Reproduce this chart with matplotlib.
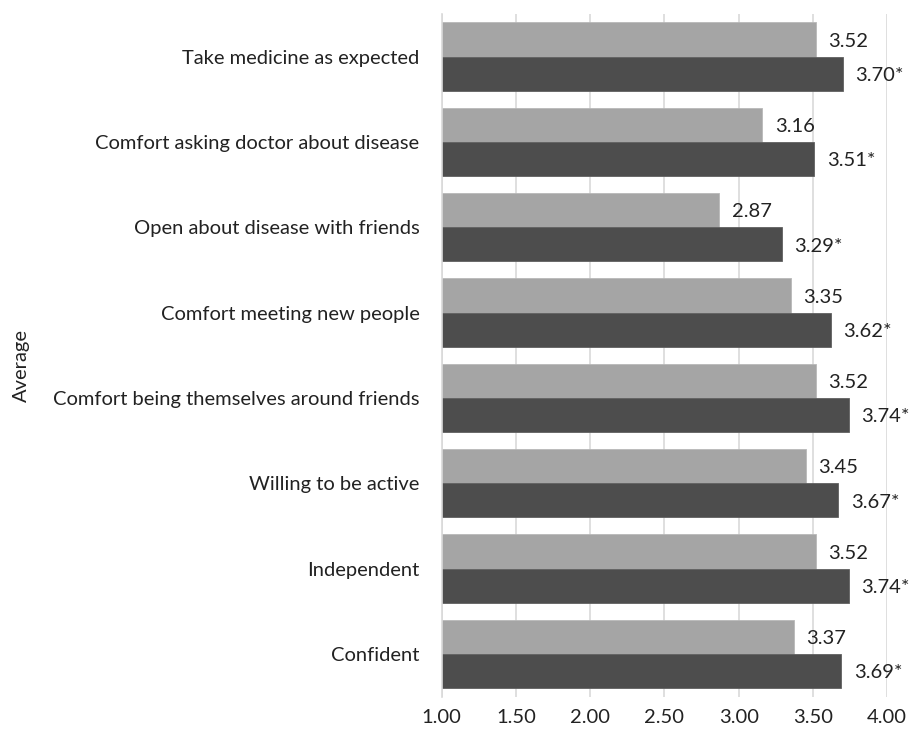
import numpy as np
import matplotlib.pyplot as plt

categories = ['Take medicine as expected', 'Comfort asking doctor about disease',
              'Open about disease with friends', 'Comfort meeting new people',
              'Comfort being themselves around friends', 'Willing to be active',
              'Independent', 'Confident']
before = [3.52, 3.16, 2.87, 3.35, 3.52, 3.45, 3.52, 3.37]
after = [3.70, 3.51, 3.29, 3.62, 3.74, 3.67, 3.74, 3.69]
after_labels = ['3.70*', '3.51*', '3.29*', '3.62*', '3.74*', '3.67*', '3.74*', '3.69*']
xticks = [1.0, 1.5, 2.0, 2.5, 3.0, 3.5, 4.0]

plt.rcParams['font.family'] = ['Lato', 'DejaVu Sans']
fs = 14.5

fig = plt.figure(figsize=(9.09, 7.31), dpi=100)
ax = fig.add_axes([0.486, 0.047, 0.49, 0.934])

y = np.arange(len(categories))
h = 0.4
ax.barh(y - h / 2, before, height=h, left=0, color='#A5A5A5', edgecolor='#B8B8B8', linewidth=0.6, zorder=2)
ax.barh(y + h / 2, after, height=h, left=0, color='#4D4D4D', edgecolor='#606060', linewidth=0.6, zorder=2)

for i in range(len(categories)):
    ax.text(before[i] + 0.085, y[i] - h / 2 + 0.02, f'{before[i]:.2f}', va='center', ha='left', fontsize=fs, color='#222222')
    ax.text(after[i] + 0.085, y[i] + h / 2 + 0.02, after_labels[i], va='center', ha='left', fontsize=fs, color='#222222')

ax.set_xlim(1.0, 4.0)
ax.set_ylim(len(categories) - 0.5, -0.5)
ax.set_xticks(xticks)
ax.set_xticklabels([f'{v:.2f}' for v in xticks], fontsize=fs, color='#222222')
ax.set_yticks(y)
ax.set_yticklabels(categories, fontsize=fs, color='#222222')
ax.tick_params(axis='x', length=0, pad=9)
ax.tick_params(axis='y', length=0, pad=16)
ax.xaxis.grid(True, color='#D9D9D9', linewidth=1.2, zorder=0)
ax.set_axisbelow(True)
for s in ['top', 'right', 'bottom']:
    ax.spines[s].set_visible(False)
ax.spines['left'].set_color('#D9D9D9')
ax.spines['left'].set_linewidth(1.2)

fig.text(0.024, 0.5, 'Average', rotation=90, va='center', ha='center', fontsize=fs, color='#222222')

fig.savefig('out.png', dpi=100)
